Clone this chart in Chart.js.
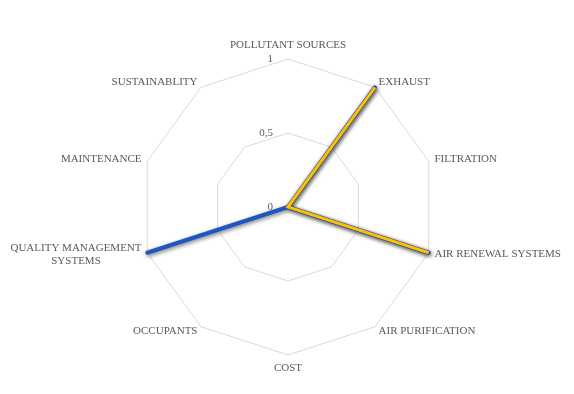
<!DOCTYPE html>
<html>
<head>
<meta charset="utf-8">
<script src="https://cdn.jsdelivr.net/npm/chart.js@4/dist/chart.umd.min.js"></script>
<style>
html,body{margin:0;padding:0;background:#fff;}
#wrap{width:574px;height:394px;}
</style>
</head>
<body>
<div id="wrap"><canvas id="c" width="574" height="394"></canvas></div>
<script>
const categories = [
  "POLLUTANT SOURCES", "EXHAUST", "FILTRATION", "AIR RENEWAL SYSTEMS",
  "AIR PURIFICATION", "COST", "OCCUPANTS",
  ["QUALITY MANAGEMENT", "SYSTEMS"], "MAINTENANCE", "SUSTAINABLITY"
];
const yellowValues = [0, 1, 0, 1, 0, 0, 0, 0, 0, 0];
const blueValues   = [0, 1, 0, 1, 0, 0, 0, 1, 0, 0];
const tickValues = [0, 0.5, 1];
const tickLabels = ["0", "0,5", "1"];

const FONT = "'Liberation Serif', 'DejaVu Serif', serif";
const TEXT_COLOR = '#595959';

const shadowPlugin = {
  id: 'shadow',
  beforeDatasetDraw(chart) {
    const ctx = chart.ctx;
    ctx.save();
    ctx.shadowColor = 'rgba(0,0,0,0.55)';
    ctx.shadowBlur = 4;
    ctx.shadowOffsetX = 1;
    ctx.shadowOffsetY = 1.5;
  },
  afterDatasetDraw(chart) {
    chart.ctx.restore();
  }
};

const labelPlugin = {
  id: 'labels',
  afterDraw(chart) {
    const scale = chart.scales.r;
    const ctx = chart.ctx;
    ctx.save();
    ctx.font = "11px " + FONT;
    ctx.fillStyle = TEXT_COLOR;
    ctx.textBaseline = 'middle';
    // tick labels
    ctx.textAlign = 'right';
    tickValues.forEach((v, i) => {
      const p = scale.getPointPositionForValue(0, v);
      ctx.fillText(tickLabels[i], p.x - 15, p.y);
    });
    // point labels
    const lineH = 13;
    chart.data.labels.forEach((lab, i) => {
      const lines = Array.isArray(lab) ? lab : [lab];
      const ang = scale.getIndexAngle(i);
      const s = Math.sin(ang), c = Math.cos(ang);
      const p = scale.getPointPosition(i, scale.drawingArea + 6);
      let x = p.x, y = p.y;
      const blockH = lines.length * lineH;
      ctx.textAlign = 'center';
      if (Math.abs(s) < 0.01) {
        y += (c > 0 ? -1 : 1) * (blockH / 2 + 1);
      } else {
        const w = Math.max(...lines.map(t => ctx.measureText(t).width));
        x += (s > 0 ? 1 : -1) * w / 2;
      }
      lines.forEach((t, k) => {
        ctx.fillText(t, x, y - blockH / 2 + lineH / 2 + k * lineH);
      });
    });
    ctx.restore();
  }
};

new Chart(document.getElementById('c'), {
  type: 'radar',
  data: {
    labels: categories,
    datasets: [
      {
        label: 'Series 2',
        data: yellowValues,
        borderColor: '#FFC000',
        borderWidth: 3,
        backgroundColor: 'rgba(0,0,0,0)',
        fill: false,
        pointRadius: 0,
        borderJoinStyle: 'miter',
        order: 0
      },
      {
        label: 'Series 1',
        data: blueValues,
        borderColor: '#1F56C6',
        borderWidth: 4,
        backgroundColor: 'rgba(0,0,0,0)',
        fill: false,
        pointRadius: 0,
        borderJoinStyle: 'round',
        order: 1
      }
    ]
  },
  options: {
    responsive: false,
    animation: false,
    layout: { padding: { top: 59, bottom: 39, left: 2, right: 0 } },
    plugins: { legend: { display: false }, tooltip: { enabled: false } },
    scales: {
      r: {
        min: 0,
        max: 1,
        ticks: { stepSize: 0.5, display: false },
        grid: { color: '#d9d9d9', lineWidth: 1 },
        angleLines: { display: false },
        pointLabels: { display: false }
      }
    }
  },
  plugins: [shadowPlugin, labelPlugin]
});
</script>
</body>
</html>
